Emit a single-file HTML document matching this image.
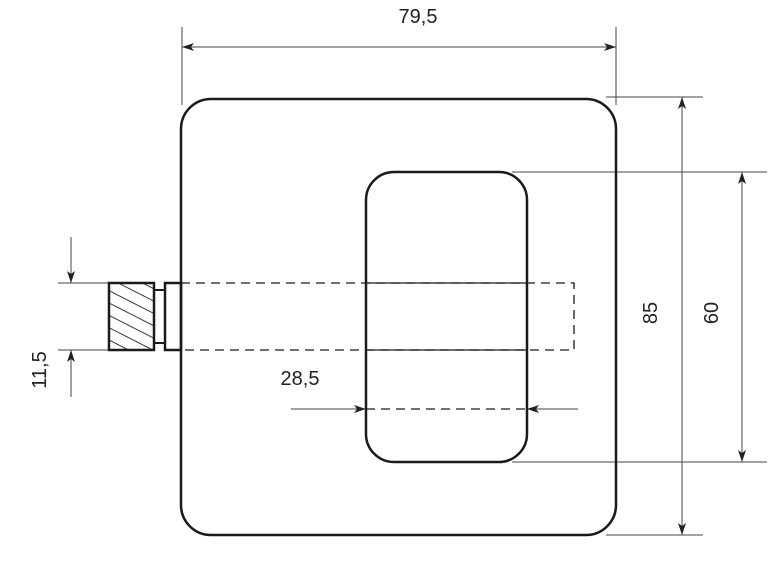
<!DOCTYPE html>
<html><head><style>html,body{margin:0;padding:0;background:#fff}svg{display:block}</style></head>
<body>
<svg width="774" height="563" xmlns="http://www.w3.org/2000/svg" font-family="Liberation Sans, sans-serif">
<defs>
<marker id="a" viewBox="0 0 12 8" refX="12" refY="4" markerWidth="12" markerHeight="8" orient="auto-start-reverse" markerUnits="userSpaceOnUse"><path d="M0,0 L12,4 L0,8 L3,4 Z" fill="#222"/></marker>
<pattern id="h" width="11" height="11" patternUnits="userSpaceOnUse" patternTransform="rotate(27)"><line x1="0" y1="0" x2="11" y2="0" stroke="#222" stroke-width="1.8"/></pattern>
</defs>
<g stroke="#444" stroke-width="1" fill="none">
<line x1="182" y1="27" x2="182" y2="105"/>
<line x1="616" y1="27" x2="616" y2="105"/>
<line x1="182" y1="47" x2="616" y2="47" marker-start="url(#a)" marker-end="url(#a)"/>
<line x1="606" y1="97" x2="703" y2="97"/>
<line x1="606" y1="535" x2="703" y2="535"/>
<line x1="682" y1="97" x2="682" y2="535" marker-start="url(#a)" marker-end="url(#a)"/>
<line x1="512" y1="172" x2="767" y2="172"/>
<line x1="512" y1="462" x2="767" y2="462"/>
<line x1="742" y1="172" x2="742" y2="462" marker-start="url(#a)" marker-end="url(#a)"/>
<line x1="58" y1="283" x2="109" y2="283"/>
<line x1="58" y1="350" x2="109" y2="350"/>
<line x1="71" y1="237" x2="71" y2="283" marker-end="url(#a)"/>
<line x1="71" y1="397" x2="71" y2="350" marker-end="url(#a)"/>
<line x1="291" y1="409" x2="366" y2="409" marker-end="url(#a)"/>
<line x1="578" y1="409" x2="527" y2="409" marker-end="url(#a)"/>
</g>
<g stroke="#1a1a1a" fill="none">
<rect x="181" y="99" width="435" height="436" rx="30" stroke-width="2.5"/>
<rect x="366" y="172" width="161" height="290" rx="28" stroke-width="2.5"/>
<line x1="366" y1="283" x2="527" y2="283" stroke-width="1.3"/>
<line x1="366" y1="350" x2="527" y2="350" stroke-width="1.3"/>
<path d="M181,283 H574 V350 H181" stroke-width="1.3" stroke-dasharray="9,6"/>
<line x1="366" y1="409" x2="527" y2="409" stroke-width="1.3" stroke-dasharray="9,6"/>
<rect x="109" y="283" width="45" height="67" fill="url(#h)" stroke-width="2.5"/>
<rect x="154" y="290" width="11" height="53" stroke-width="2"/>
<rect x="165" y="283" width="16" height="67" stroke-width="2.5"/>
</g>
<g fill="#222" font-size="20">
<text x="418" y="23" text-anchor="middle">79,5</text>
<text x="300" y="385" text-anchor="middle">28,5</text>
<text transform="translate(657,313) rotate(-90)" text-anchor="middle">85</text>
<text transform="translate(718,313) rotate(-90)" text-anchor="middle">60</text>
<text transform="translate(46,370) rotate(-90)" text-anchor="middle">11,5</text>
</g>
</svg>
</body></html>
